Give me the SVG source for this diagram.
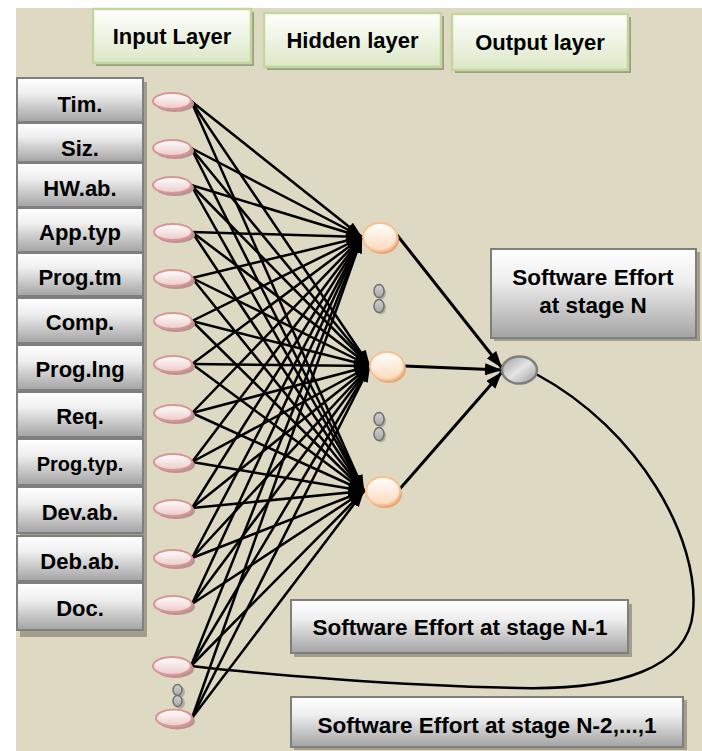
<svg xmlns="http://www.w3.org/2000/svg" width="702" height="751" viewBox="0 0 702 751">
<defs>
<linearGradient id="gGreen" x1="0" y1="0" x2="0" y2="1"><stop offset="0" stop-color="#FFFFFF"/><stop offset="1" stop-color="#DCE7C6"/></linearGradient>
<linearGradient id="gGray" x1="0" y1="0" x2="0" y2="1"><stop offset="0" stop-color="#FFFFFF"/><stop offset="0.35" stop-color="#EFEFEF"/><stop offset="1" stop-color="#A3A3A3"/></linearGradient>
<linearGradient id="gPink" x1="0" y1="0" x2="0" y2="1"><stop offset="0" stop-color="#FFFFFF"/><stop offset="1" stop-color="#EDC9C8"/></linearGradient>
<linearGradient id="gPeach" x1="0" y1="0" x2="0" y2="1"><stop offset="0" stop-color="#FFFFFF"/><stop offset="1" stop-color="#FCD9BC"/></linearGradient>
<linearGradient id="gOut" x1="0" y1="0" x2="1" y2="1"><stop offset="0" stop-color="#9E9E9E"/><stop offset="0.5" stop-color="#E4E4E4"/><stop offset="1" stop-color="#9A9A9A"/></linearGradient>
<linearGradient id="gDot" x1="0" y1="0" x2="0" y2="1"><stop offset="0" stop-color="#D0D0D0"/><stop offset="1" stop-color="#A8A8A8"/></linearGradient>
<marker id="arr" markerUnits="userSpaceOnUse" viewBox="0 0 16 11" refX="16" refY="5.5" markerWidth="16" markerHeight="11" orient="auto"><path d="M0,0 L16,5.5 L0,11 z" fill="#000"/></marker>
<marker id="arr2" markerUnits="userSpaceOnUse" viewBox="0 0 17 12" refX="17" refY="6" markerWidth="17" markerHeight="12" orient="auto"><path d="M0,0 L17,6 L0,12 z" fill="#000"/></marker>
</defs>
<style>
.hdr{fill:url(#gGreen);stroke:#C3D69B;stroke-width:2.5}
.hsh{fill:#9CA083}
.lbl{fill:url(#gGray);stroke:#7F7F7F;stroke-width:2}
.bsh{fill:#A29E8A}
.t{font-family:"Liberation Sans",Arial,sans-serif;font-weight:bold;fill:#000;text-anchor:middle}
.inN{fill:url(#gPink);stroke:#D99694;stroke-width:2}
.inS{fill:#B99493}
.hidN{fill:url(#gPeach);stroke:#FAC090;stroke-width:2}
.hidS{fill:#E3AA7C}
.outN{fill:url(#gOut);stroke:#7F7F7F;stroke-width:2.5}
.dot{fill:url(#gDot);stroke:#707070;stroke-width:1.5}
.dotS{fill:#B3AFA0}
.c{stroke:#000;stroke-width:2.5;fill:none}
.c2{stroke:#000;stroke-width:3;fill:none}
</style>
<rect x="16" y="8" width="686" height="743" fill="#DDD9C3"/>

<g id="hdr-input"><rect class="hsh" x="96" y="12" width="158" height="54"/><rect class="hdr" x="93" y="9" width="158" height="54"/><text class="t" x="172" y="44" font-size="22">Input Layer</text></g>
<g id="hdr-hidden"><rect class="hsh" x="267" y="16" width="177" height="54"/><rect class="hdr" x="264" y="13" width="177" height="54"/><text class="t" x="352.5" y="48" font-size="22">Hidden layer</text></g>
<g id="hdr-output"><rect class="hsh" x="455" y="17" width="176" height="56"/><rect class="hdr" x="452" y="14" width="176" height="56"/><text class="t" x="540" y="50" font-size="22">Output layer</text></g>

<g id="labels">
<rect class="bsh" x="20" y="82" width="127" height="555"/>
<g id="lbl-tim"><rect class="lbl" x="17" y="78" width="126" height="44"/><text class="t" x="80" y="112" font-size="22">Tim.</text></g>
<g id="lbl-siz"><rect class="lbl" x="17" y="123" width="126" height="39"/><text class="t" x="80" y="156" font-size="22">Siz.</text></g>
<g id="lbl-hw"><rect class="lbl" x="17" y="163" width="126" height="44"/><text class="t" x="80" y="196" font-size="22">HW.ab.</text></g>
<g id="lbl-app"><rect class="lbl" x="17" y="208" width="126" height="44"/><text class="t" x="80" y="240" font-size="22">App.typ</text></g>
<g id="lbl-progtm"><rect class="lbl" x="17" y="253" width="126" height="43"/><text class="t" x="80" y="285" font-size="22">Prog.tm</text></g>
<g id="lbl-comp"><rect class="lbl" x="17" y="298" width="126" height="45"/><text class="t" x="80" y="330" font-size="22">Comp.</text></g>
<g id="lbl-proglng"><rect class="lbl" x="17" y="345" width="126" height="45"/><text class="t" x="80" y="377" font-size="22">Prog.lng</text></g>
<g id="lbl-req"><rect class="lbl" x="17" y="392" width="126" height="45"/><text class="t" x="80" y="424" font-size="22">Req.</text></g>
<g id="lbl-progtyp"><rect class="lbl" x="17" y="439" width="126" height="46"/><text class="t" x="80" y="471" font-size="20">Prog.typ.</text></g>
<g id="lbl-dev"><rect class="lbl" x="17" y="487" width="126" height="46"/><text class="t" x="80" y="520" font-size="22">Dev.ab.</text></g>
<g id="lbl-deb"><rect class="lbl" x="17" y="536" width="126" height="45"/><text class="t" x="80" y="569" font-size="22">Deb.ab.</text></g>
<g id="lbl-doc"><rect class="lbl" x="17" y="583" width="126" height="47"/><text class="t" x="80" y="616" font-size="22">Doc.</text></g>
</g>

<g id="se-n"><rect class="bsh" x="494" y="252" width="206" height="89"/><rect class="lbl" x="491" y="249" width="205" height="89"/><text class="t" x="593" y="285" font-size="22.5">Software Effort</text><text class="t" x="593" y="313" font-size="22.5">at stage N</text></g>
<g id="se-n1"><rect class="bsh" x="294" y="604" width="338" height="53"/><rect class="lbl" x="291" y="600" width="337" height="53"/><text class="t" x="460" y="635" font-size="22.5">Software Effort at stage N-1</text></g>
<g id="se-n2"><rect class="bsh" x="294" y="700" width="393" height="50"/><rect class="lbl" x="291" y="697" width="392" height="50"/><text class="t" x="487" y="733" font-size="22.5">Software Effort at stage N-2,...,1</text></g>

<g id="connectors">
<g class="c" marker-end="url(#arr)">
<path d="M191,101 L362,237"/><path d="M191,101 L370,366"/><path d="M191,101 L364,491"/>
<path d="M191,148 L362,237"/><path d="M191,148 L370,366"/><path d="M191,148 L364,491"/>
<path d="M191,185 L362,237"/><path d="M191,185 L370,366"/><path d="M191,185 L364,491"/>
<path d="M192,232 L362,237"/><path d="M192,232 L370,366"/><path d="M192,232 L364,491"/>
<path d="M192,278 L362,237"/><path d="M192,278 L370,366"/><path d="M192,278 L364,491"/>
<path d="M192,321 L362,237"/><path d="M192,321 L370,366"/><path d="M192,321 L364,491"/>
<path d="M192,364 L362,237"/><path d="M192,364 L370,366"/><path d="M192,364 L364,491"/>
<path d="M192,413 L362,237"/><path d="M192,413 L370,366"/><path d="M192,413 L364,491"/>
<path d="M192,462 L362,237"/><path d="M192,462 L370,366"/><path d="M192,462 L364,491"/>
<path d="M192,508 L362,237"/><path d="M192,508 L370,366"/><path d="M192,508 L364,491"/>
<path d="M192,558 L362,237"/><path d="M192,558 L370,366"/><path d="M192,558 L364,491"/>
<path d="M192,604 L362,237"/><path d="M192,604 L370,366"/><path d="M192,604 L364,491"/>
<path d="M191,666 L362,237"/><path d="M191,666 L370,366"/><path d="M191,666 L364,491"/>
<path d="M192,718 L362,237"/><path d="M192,718 L370,366"/><path d="M192,718 L364,491"/>
</g>
<g class="c2" marker-end="url(#arr2)">
<path d="M397,235 L502,368"/><path d="M404,366 L502,370"/><path d="M398,491 L502,372"/>
</g>
<path class="c" stroke-width="2" d="M536,374 C640,430 700,540 693,612 C688,668 620,690 520,688 C400,686 260,674 191,666"/>
</g>

<g id="inputs">
<g id="in1"><ellipse class="inS" cx="175" cy="104" rx="19" ry="8"/><ellipse class="inN" cx="172" cy="101" rx="19" ry="8"/></g>
<g id="in2"><ellipse class="inS" cx="175" cy="151" rx="19" ry="8"/><ellipse class="inN" cx="172" cy="148" rx="19" ry="8"/></g>
<g id="in3"><ellipse class="inS" cx="175" cy="188" rx="19" ry="8"/><ellipse class="inN" cx="172" cy="185" rx="19" ry="8"/></g>
<g id="in4"><ellipse class="inS" cx="176" cy="235" rx="19" ry="8"/><ellipse class="inN" cx="173" cy="232" rx="19" ry="8"/></g>
<g id="in5"><ellipse class="inS" cx="176" cy="281" rx="19" ry="8"/><ellipse class="inN" cx="173" cy="278" rx="19" ry="8"/></g>
<g id="in6"><ellipse class="inS" cx="176" cy="324" rx="19" ry="8"/><ellipse class="inN" cx="173" cy="321" rx="19" ry="8"/></g>
<g id="in7"><ellipse class="inS" cx="176" cy="367" rx="19" ry="8"/><ellipse class="inN" cx="173" cy="364" rx="19" ry="8"/></g>
<g id="in8"><ellipse class="inS" cx="176" cy="416" rx="19" ry="8"/><ellipse class="inN" cx="173" cy="413" rx="19" ry="8"/></g>
<g id="in9"><ellipse class="inS" cx="176" cy="465" rx="19" ry="8"/><ellipse class="inN" cx="173" cy="462" rx="19" ry="8"/></g>
<g id="in10"><ellipse class="inS" cx="176" cy="511" rx="19" ry="8"/><ellipse class="inN" cx="173" cy="508" rx="19" ry="8"/></g>
<g id="in11"><ellipse class="inS" cx="176" cy="561" rx="19" ry="8"/><ellipse class="inN" cx="173" cy="558" rx="19" ry="8"/></g>
<g id="in12"><ellipse class="inS" cx="176" cy="607" rx="19" ry="8"/><ellipse class="inN" cx="173" cy="604" rx="19" ry="8"/></g>
<g id="in13"><ellipse class="inS" cx="175" cy="669" rx="19" ry="9"/><ellipse class="inN" cx="172" cy="666" rx="19" ry="9"/></g>
<g id="in14"><ellipse class="inS" cx="177" cy="721" rx="18" ry="8.5"/><ellipse class="inN" cx="174" cy="718" rx="18" ry="8.5"/></g>
<g id="in-dots"><ellipse class="dotS" cx="180" cy="692" rx="5" ry="6"/><ellipse class="dotS" cx="180" cy="703" rx="5" ry="6"/><ellipse class="dot" cx="177.5" cy="690" rx="4.5" ry="5.5"/><ellipse class="dot" cx="177.5" cy="701" rx="4.5" ry="5.5"/></g>
</g>

<g id="hidden">
<g id="h1"><ellipse class="hidS" cx="382" cy="240" rx="17" ry="14"/><ellipse class="hidN" cx="380" cy="237" rx="17" ry="14"/></g>
<g id="h2"><ellipse class="hidS" cx="389" cy="369" rx="17" ry="14"/><ellipse class="hidN" cx="387" cy="366" rx="17" ry="14"/></g>
<g id="h3"><ellipse class="hidS" cx="385" cy="494" rx="17" ry="14"/><ellipse class="hidN" cx="383" cy="491" rx="17" ry="14"/></g>
<g id="h-dots1"><ellipse class="dotS" cx="381" cy="293" rx="5" ry="6.5"/><ellipse class="dotS" cx="381" cy="308" rx="5" ry="6.5"/><ellipse class="dot" cx="379" cy="291" rx="5" ry="6.5"/><ellipse class="dot" cx="379" cy="306" rx="5" ry="6.5"/></g>
<g id="h-dots2"><ellipse class="dotS" cx="381" cy="421" rx="5" ry="6.5"/><ellipse class="dotS" cx="381" cy="436" rx="5" ry="6.5"/><ellipse class="dot" cx="379" cy="419" rx="5" ry="6.5"/><ellipse class="dot" cx="379" cy="434" rx="5" ry="6.5"/></g>
</g>

<g id="output"><ellipse class="outN" cx="519.5" cy="370" rx="17.5" ry="13.5"/></g>
</svg>
